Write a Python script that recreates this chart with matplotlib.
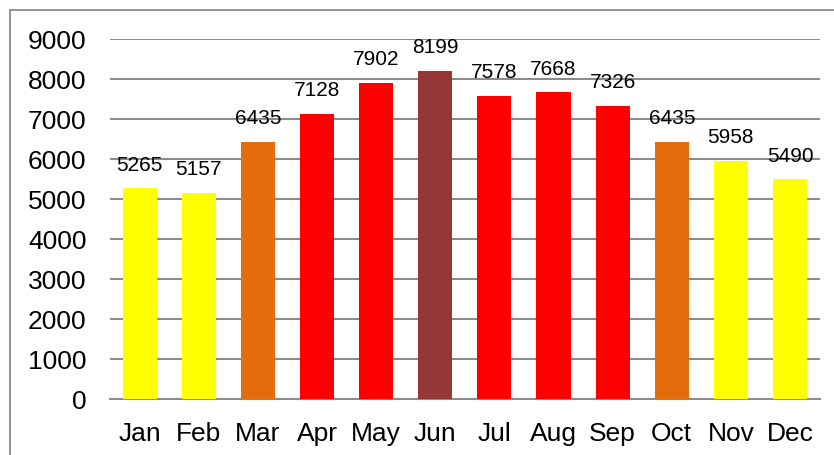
import matplotlib.pyplot as plt
from matplotlib.patches import Rectangle

months = ['Jan', 'Feb', 'Mar', 'Apr', 'May', 'Jun', 'Jul', 'Aug', 'Sep', 'Oct', 'Nov', 'Dec']
values = [5265, 5157, 6435, 7128, 7902, 8199, 7578, 7668, 7326, 6435, 5958, 5490]
colors = ['#FFFF00', '#FFFF00', '#E46C0A', '#FF0000', '#FF0000', '#953735',
          '#FF0000', '#FF0000', '#FF0000', '#E46C0A', '#FFFF00', '#FFFF00']
yticks = [0, 1000, 2000, 3000, 4000, 5000, 6000, 7000, 8000, 9000]

plt.rcParams['font.family'] = ['Liberation Sans', 'DejaVu Sans']

fig = plt.figure(figsize=(8.34, 4.56), dpi=100)
# chart frame (only top and left edges fall inside the picture)
fig.patches.append(Rectangle((10 / 834, -0.1), 1.2, 1 - 11 / 456 + 0.1,
                             transform=fig.transFigure, fill=False,
                             edgecolor='#8c8c8c', lw=1.3))

ax = fig.add_axes([110 / 834, 1 - 400 / 456, 709.6 / 834, 360 / 456])
x = range(len(months))
bars = ax.bar(x, values, width=0.575, color=colors, zorder=3)

for rect, v in zip(bars, values):
    ax.annotate(str(v), (rect.get_x() + rect.get_width() / 2, v),
                xytext=(0, 10.5), textcoords='offset points',
                ha='center', va='bottom', fontsize=15)

ax.set_xlim(-0.5, 11.5)
ax.set_ylim(0, 9000)
ax.set_yticks(yticks)
ax.set_xticks(list(x))
ax.set_xticklabels(months)
ax.tick_params(axis='y', length=0, pad=17, labelsize=19)
ax.tick_params(axis='x', length=0, pad=15.5, labelsize=19)
ax.grid(axis='y', color='#8c8c8c', lw=1.5, zorder=0)
for s in ['top', 'right', 'left']:
    ax.spines[s].set_visible(False)
ax.spines['bottom'].set_color('#8c8c8c')
ax.spines['bottom'].set_linewidth(1.5)

fig.savefig('out.png', dpi=100)
